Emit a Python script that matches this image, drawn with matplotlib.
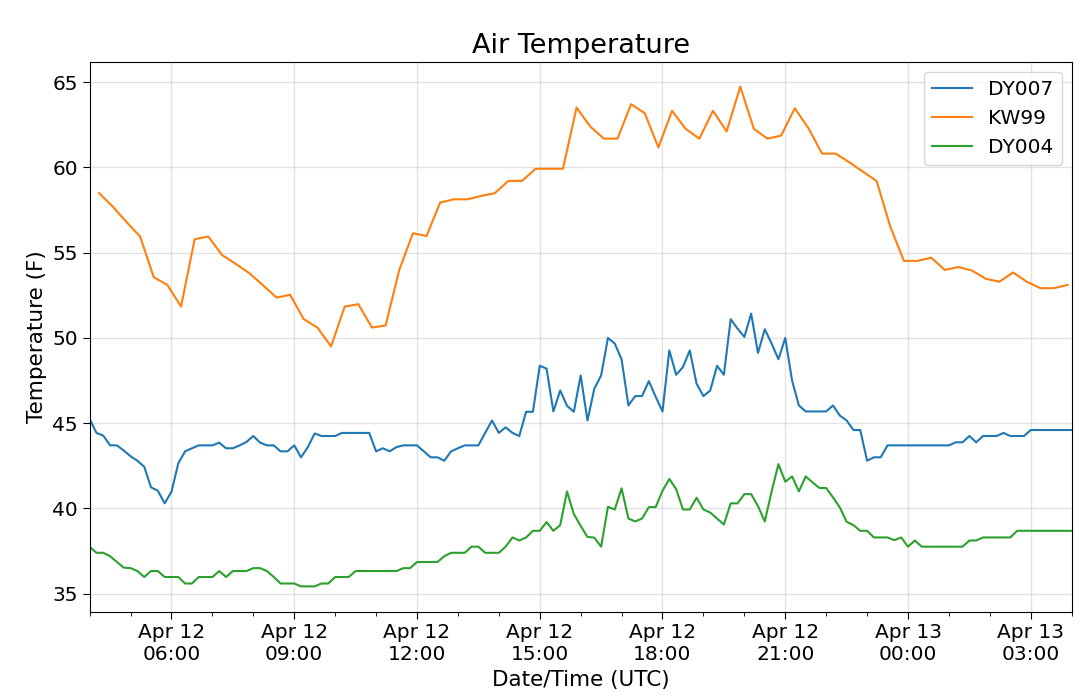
import pandas as pd
import matplotlib
matplotlib.use("Agg")
import matplotlib.pyplot as plt
import matplotlib.dates as mdates

# station series (degrees F)
dy007_start = "2019-04-12 04:00"
dy007_temp = [
    45.25, 44.43, 44.27, 43.7, 43.7, 43.4, 43.06, 42.8, 42.45, 41.24,
    41.04, 40.3, 40.98, 42.65, 43.35, 43.53, 43.7, 43.7, 43.7, 43.86,
    43.53, 43.53, 43.7, 43.9, 44.25, 43.86, 43.7, 43.7, 43.35, 43.35,
    43.7, 43.0, 43.6, 44.4, 44.25, 44.25, 44.25, 44.43, 44.43, 44.43,
    44.43, 44.43, 43.35, 43.53, 43.35, 43.6, 43.7, 43.7, 43.7, 43.35,
    43.0, 43.0, 42.8, 43.35, 43.53, 43.7, 43.7, 43.7, 44.43, 45.16,
    44.43, 44.76, 44.43, 44.25, 45.67, 45.67, 48.37, 48.2, 45.69, 46.92,
    46.02, 45.67, 47.8, 45.16, 47.02, 47.8, 50.0, 49.67, 48.75, 46.04,
    46.59, 46.59, 47.47, 46.55, 45.69, 49.27, 47.84, 48.29, 49.27, 47.31,
    46.59, 46.92, 48.37, 47.84, 51.1, 50.55, 50.06, 51.43, 49.12, 50.51,
    49.67, 48.75, 50.0, 47.5, 46.04, 45.69, 45.69, 45.69, 45.69, 46.04,
    45.45, 45.16, 44.6, 44.6, 42.8, 43.0, 43.0, 43.7, 43.7, 43.7,
    43.7, 43.7, 43.7, 43.7, 43.7, 43.7, 43.7, 43.88, 43.88, 44.25,
    43.88, 44.25, 44.25, 44.25, 44.43, 44.25, 44.25, 44.25, 44.6, 44.6,
    44.6, 44.6, 44.6, 44.6, 44.6,
]

kw99_start = "2019-04-12 04:14"
kw99_temp = [
    58.49, 57.7, 56.8, 55.95, 53.56, 53.11, 51.84, 55.79, 55.95, 54.87,
    54.35, 53.8, 53.1, 52.37, 52.53, 51.1, 50.61, 49.5, 51.84, 51.98,
    50.61, 50.73, 53.99, 56.14, 55.98, 57.94, 58.13, 58.13, 58.33, 58.49,
    59.21, 59.21, 59.92, 59.92, 59.92, 63.51, 62.4, 61.69, 61.69, 63.71,
    63.18, 61.17, 63.32, 62.26, 61.69, 63.32, 62.11, 64.74, 62.26, 61.69,
    61.87, 63.47, 62.3, 60.81, 60.81, 60.3, 59.75, 59.2, 56.53, 54.52,
    54.52, 54.71, 53.99, 54.16, 53.95, 53.47, 53.3, 53.84, 53.3, 52.92,
    52.92, 53.11,
]

dy004_start = "2019-04-12 04:00"
dy004_temp = [
    37.75, 37.4, 37.4, 37.2, 36.86, 36.53, 36.5, 36.33, 35.98, 36.33,
    36.33, 35.98, 35.98, 35.98, 35.6, 35.6, 35.98, 35.98, 35.98, 36.33,
    35.98, 36.33, 36.33, 36.33, 36.5, 36.5, 36.33, 35.98, 35.6, 35.6,
    35.6, 35.43, 35.43, 35.43, 35.6, 35.6, 35.98, 35.98, 35.98, 36.33,
    36.33, 36.33, 36.33, 36.33, 36.33, 36.33, 36.5, 36.5, 36.86, 36.86,
    36.86, 36.86, 37.2, 37.4, 37.4, 37.4, 37.76, 37.76, 37.4, 37.4,
    37.4, 37.76, 38.3, 38.12, 38.3, 38.69, 38.69, 39.2, 38.69, 39.02,
    41.0, 39.67, 38.98, 38.33, 38.29, 37.76, 40.1, 39.94, 41.18, 39.41,
    39.24, 39.41, 40.08, 40.08, 41.04, 41.73, 41.14, 39.94, 39.94, 40.63,
    39.94, 39.76, 39.41, 39.06, 40.3, 40.3, 40.84, 40.84, 40.14, 39.24,
    41.0, 42.6, 41.57, 41.88, 41.0, 41.88, 41.53, 41.2, 41.2, 40.65,
    40.06, 39.22, 39.02, 38.69, 38.69, 38.3, 38.3, 38.3, 38.14, 38.3,
    37.76, 38.12, 37.76, 37.76, 37.76, 37.76, 37.76, 37.76, 37.76, 38.12,
    38.12, 38.3, 38.3, 38.3, 38.3, 38.3, 38.69, 38.69, 38.69, 38.69,
    38.69, 38.69, 38.69, 38.69, 38.69,
]

dy007 = pd.Series(dy007_temp, index=pd.date_range(dy007_start, periods=len(dy007_temp), freq="10min"))
kw99 = pd.Series(kw99_temp, index=pd.date_range(kw99_start, periods=len(kw99_temp), freq="20min"))
dy004 = pd.Series(dy004_temp, index=pd.date_range(dy004_start, periods=len(dy004_temp), freq="10min"))

fig = plt.figure(figsize=(10.8, 6.99), dpi=100)
ax = fig.add_axes([0.083, 0.125, 0.9093, 0.7867])

ax.plot(dy007.index, dy007.values, color="#1f77b4", lw=1.5, label="DY007")
ax.plot(kw99.index, kw99.values, color="#ff7f0e", lw=1.5, label="KW99")
ax.plot(dy004.index, dy004.values, color="#2ca02c", lw=1.5, label="DY004")

ax.set_xlim(pd.Timestamp("2019-04-12 04:00"), pd.Timestamp("2019-04-13 04:00"))
ax.set_ylim(33.95, 66.2)
ax.set_yticks([35, 40, 45, 50, 55, 60, 65])

ax.xaxis.set_major_locator(mdates.HourLocator(byhour=[0, 3, 6, 9, 12, 15, 18, 21]))
ax.xaxis.set_minor_locator(mdates.HourLocator())
ax.xaxis.set_major_formatter(mdates.DateFormatter("%b %d\n%H:%M"))

ax.grid(True, which="major", color="#b0b0b0", alpha=0.35, lw=1)
ax.tick_params(which="major", length=5, labelsize=14.5)
ax.tick_params(which="minor", length=3)

ax.set_title("Air Temperature", fontsize=19.5)
ax.set_xlabel("Date/Time (UTC)", fontsize=15.5)
ax.set_ylabel("Temperature (F)", fontsize=15.5)
ax.legend(loc="upper right", fontsize=14.5)

fig.savefig("out.png", dpi=100)
